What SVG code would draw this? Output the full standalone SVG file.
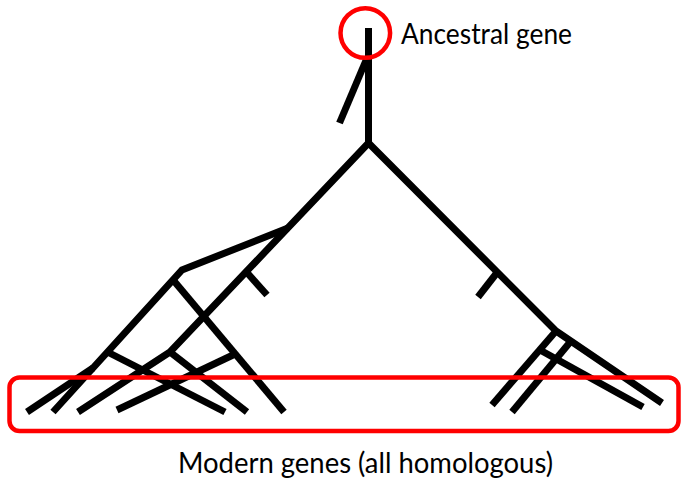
<svg xmlns="http://www.w3.org/2000/svg" width="681" height="482" viewBox="0 0 681 482">
  <style>
    .branch { fill: none; stroke: #000; stroke-width: 7; stroke-linecap: butt; stroke-linejoin: miter; }
    .hl { fill: none; stroke: #f00; stroke-width: 4.5; }
    .lbl { font-family: Lato, "Open Sans", "Liberation Sans", sans-serif; font-size: 28.5px; fill: #000; }
  </style>
  <rect width="681" height="482" fill="#fff"/>
  <g id="connectors">
    <!-- stem and ancestral branch -->
    <path class="branch" d="M368.5 28 V143"/>
    <path class="branch" d="M367 58 L339.5 123"/>
    <!-- left lineage -->
    <path class="branch" d="M368.5 143 L170 352 L78 412"/>
    <path class="branch" d="M170 352 L247 412"/>
    <path class="branch" d="M288 228 L182 270 L53 412"/>
    <path class="branch" d="M174 281 L284 412"/>
    <path class="branch" d="M107.5 352 L225 412"/>
    <path class="branch" d="M233 355 L117 410"/>
    <path class="branch" d="M93 368 L27 412"/>
    <path class="branch" d="M246.5 272 L267 295"/>
    <!-- right lineage -->
    <path class="branch" d="M368.5 143 L556 331 L662 403"/>
    <path class="branch" d="M556 331 L492 405"/>
    <path class="branch" d="M571 341 L512 412"/>
    <path class="branch" d="M540 350 L643 407"/>
    <path class="branch" d="M497.5 272 L478 297"/>
  </g>
  <g id="ancestral-gene">
    <circle class="hl" cx="365.3" cy="33" r="24.8"/>
    <text class="lbl" x="401" y="44" textLength="171" lengthAdjust="spacingAndGlyphs">Ancestral gene</text>
  </g>
  <g id="modern-genes">
    <rect class="hl" x="9.5" y="377.5" width="669" height="53.5" rx="10" ry="10"/>
    <text class="lbl" x="178" y="473" textLength="375" lengthAdjust="spacingAndGlyphs">Modern genes (all homologous)</text>
  </g>
</svg>
